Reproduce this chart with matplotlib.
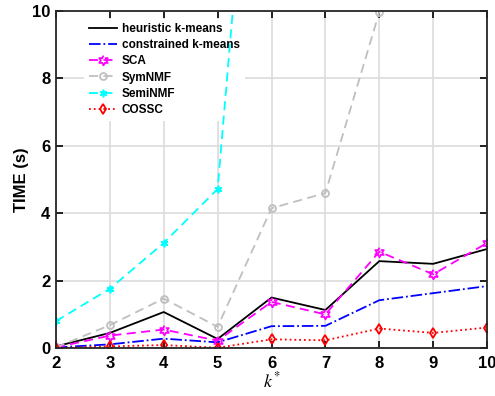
import numpy as np
import matplotlib
matplotlib.use("Agg")
import matplotlib.pyplot as plt

plt.rcParams['font.family'] = ['Liberation Sans', 'DejaVu Sans']
plt.rcParams['mathtext.fontset'] = 'stix'

k = [2, 3, 4, 5, 6, 7, 8, 9, 10]
heuristic = [0.05, 0.45, 1.07, 0.27, 1.50, 1.13, 2.58, 2.50, 2.94]
constrained = [0.02, 0.11, 0.28, 0.17, 0.65, 0.66, 1.42, 1.63, 1.84]
sca = [0.02, 0.37, 0.55, 0.22, 1.37, 1.00, 2.86, 2.19, 3.12]
symnmf = [0.02, 0.68, 1.47, 0.63, 4.15, 4.60, 9.97, 14.0, 16.0]
seminmf = [0.80, 1.76, 3.12, 4.72, 23.5, 30.0, 35.0, 40.0, 45.0]
cossc = [0.00, 0.05, 0.09, 0.01, 0.26, 0.23, 0.58, 0.45, 0.61]

# six-pointed star, like MATLAB's hexagram marker
ang = np.pi / 2 + np.arange(12) * np.pi / 6
rad = np.where(np.arange(12) % 2 == 0, 1.0, 0.55)
hexagram = np.column_stack([rad * np.cos(ang), rad * np.sin(ang)])

fig = plt.figure(figsize=(4.95, 3.96), dpi=100)
ax = fig.add_axes([0.113, 0.121, 0.871, 0.851])

lw = 1.3
ax.plot(k, heuristic, color='black', lw=lw, label='heuristic k-means')
ax.plot(k, constrained, color='blue', lw=lw, ls='-.', label='constrained k-means')
ax.plot(k, sca, color='magenta', lw=lw, ls=(0, (5, 3)), marker=hexagram, ms=7,
        mfc='none', mew=1.3, label='SCA')
ax.plot(k, symnmf, color='#bfbfbf', lw=lw, ls=(0, (5, 3)), marker='o', ms=5,
        mfc='none', mew=1.3, label='SymNMF')
ax.plot(k, seminmf, color='cyan', lw=lw, ls=(0, (5, 3)), marker=(6, 2, 0), ms=5.5,
        mew=1.2, label='SemiNMF')
ax.plot(k, cossc, color='red', lw=lw, ls=':', marker='d', ms=5,
        mfc='none', mew=1.3, label='COSSC')

ax.set_xlim(2, 10)
ax.set_ylim(0, 10)
ax.set_xticks(k)
ax.set_yticks([0, 2, 4, 6, 8, 10])
ax.grid(True, color='#dcdcdc', lw=1.2)
ax.set_axisbelow(True)
ax.tick_params(direction='in', top=True, right=True, labelsize=12, length=5,
               width=1.2)
ax.tick_params(axis='x', pad=6)
ax.tick_params(axis='y', pad=4)
for lab in ax.get_xticklabels() + ax.get_yticklabels():
    lab.set_fontweight('bold')
for s in ax.spines.values():
    s.set_linewidth(1.3)
    s.set_color('#262626')

ax.set_xlabel('$k^{*}$', fontsize=13, labelpad=0)
ax.set_ylabel('TIME (s)', fontsize=12, fontweight='bold', labelpad=2)

leg = ax.legend(loc='upper left', bbox_to_anchor=(0.06, 0.985),
                frameon=True, framealpha=1, facecolor='white', edgecolor='none',
                handlelength=2.4, handletextpad=0.4, labelspacing=0.35,
                borderaxespad=0.2, prop={'weight': 'bold', 'size': 8.5})
# keep the data lines on top of the legend box
leg.set_zorder(1.5)

fig.savefig('out.png', dpi=100)
